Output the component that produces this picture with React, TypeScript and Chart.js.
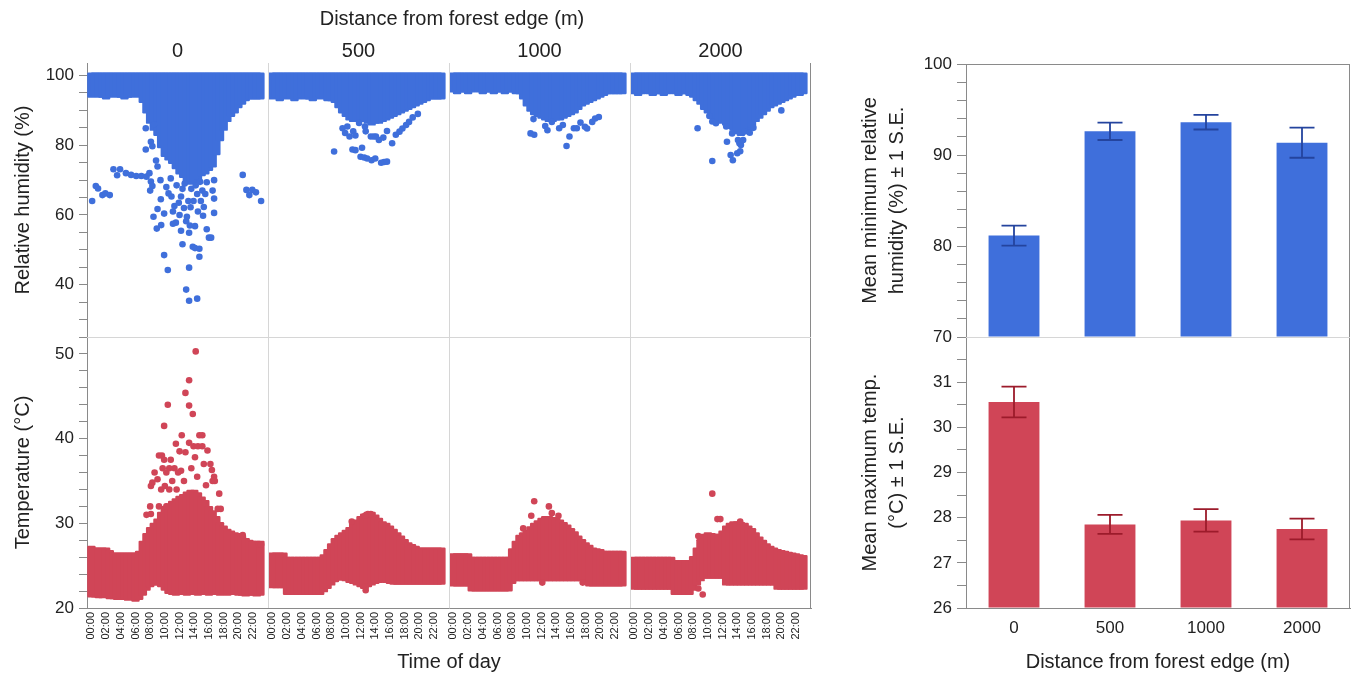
import React, { useEffect, useRef } from 'react';
import { Chart, registerables } from 'chart.js';

Chart.register(...registerables);

// ---------------- data ----------------
const DISTANCES = ['0', '500', '1000', '2000'];

// half-hour time slots of the scatter clouds (hours of day)
const HOURS = [0, 0.5, 1, 1.5, 2, 2.5, 3, 3.5, 4, 4.5, 5, 5.5, 6, 6.5, 7, 7.5, 8, 8.5, 9, 9.5, 10, 10.5, 11, 11.5, 12, 12.5, 13, 13.5, 14, 14.5, 15, 15.5, 16, 16.5, 17, 17.5, 18, 18.5, 19, 19.5, 20, 20.5, 21, 21.5, 22, 22.5, 23];
const TICK_HOURS = [0, 2, 4, 6, 8, 10, 12, 14, 16, 18, 20, 22];
const TIME_LABELS = ['00:00', '02:00', '04:00', '06:00', '08:00', '10:00', '12:00', '14:00', '16:00', '18:00', '20:00', '22:00'];

// relative humidity: upper limit of the dense cloud per distance
const RH_TOP = [100, 100, 100, 100];
// relative humidity: lower limit of the dense cloud per time slot
const RH_LO_0 = [94.5, 95, 94.5, 94.5, 94, 94.5, 95, 94.5, 94.5, 94, 94.5, 94.5, 95, 94.5, 93, 90, 87, 85, 83.5, 80, 77.5, 76.5, 75.5, 74, 72.5, 71.5, 70, 69.5, 70, 71, 72, 72.5, 73.5, 74.5, 78, 82, 85, 87.5, 89, 90, 91.5, 92.5, 93.5, 94, 94, 94, 94];
const RH_LO_1 = [94, 94.5, 93.5, 94, 94.5, 94, 93.5, 94, 94.5, 94, 94, 93.5, 94, 94.5, 94, 93.5, 93.5, 93, 91.5, 90, 89, 88, 87.5, 87.5, 87.5, 87.5, 87, 86.5, 87, 87, 87.5, 88, 88.5, 89, 89.5, 90, 90.5, 91, 91.5, 92, 92.5, 93, 93.5, 94, 94, 94, 94];
const RH_LO_2 = [96, 95.5, 96, 96, 95.5, 96, 96.5, 96, 95.5, 96, 96, 95.5, 96, 96, 95.5, 96, 96, 95.5, 95.5, 94, 92, 90.5, 89.5, 89, 88.5, 88, 87.5, 87.5, 88, 88, 88.5, 89, 89.5, 90, 91, 92, 92.5, 93, 93.5, 94, 94.5, 95, 95.5, 95.5, 95.5, 95.5, 95.5];
const RH_LO_3 = [95.5, 95, 95.5, 96, 95.5, 95, 95.5, 95.5, 95, 95.5, 96, 95.5, 95, 95.5, 95.5, 95, 94.5, 93.5, 92.5, 91, 90, 89, 88, 87.5, 87, 86.5, 85.5, 85, 84, 83.5, 84, 85, 86, 87.5, 88.5, 89.5, 90.5, 91.5, 92, 92.5, 93, 93.5, 94, 94.5, 95, 95, 95.5];

// temperature: upper / lower limit of the dense cloud per time slot
const T_HI_0 = [27, 26.8, 26.8, 26.8, 26.8, 26.5, 26.2, 26.2, 26.2, 26.2, 26.2, 26.2, 26.2, 26.4, 27.6, 28.5, 29.2, 29.7, 30.2, 31, 31.7, 32, 32.3, 32.6, 32.9, 33.1, 33.4, 33.6, 33.6, 33.3, 32.8, 32.4, 31.7, 31.2, 30.5, 29.8, 29.4, 29, 28.8, 28.6, 28.5, 28.2, 27.9, 27.7, 27.6, 27.6, 27.6];
const T_LO_0 = [21.6, 21.6, 21.5, 21.5, 21.6, 21.4, 21.4, 21.3, 21.3, 21.4, 21.2, 21.3, 21.1, 21.3, 21.8, 22.4, 22.8, 23, 23, 22.8, 22.4, 22, 21.9, 21.8, 21.9, 21.9, 21.8, 21.9, 21.9, 21.8, 21.9, 21.9, 21.8, 21.9, 21.9, 21.8, 21.9, 21.8, 21.9, 21.9, 21.8, 21.8, 21.7, 21.8, 21.8, 21.7, 21.8];
const T_HI_1 = [26.2, 26.2, 26.2, 26.2, 25.7, 25.7, 25.7, 25.7, 25.7, 25.7, 25.7, 25.7, 25.7, 25.7, 26, 26.6, 27.3, 27.9, 28.3, 28.6, 28.9, 29.2, 29.8, 30.1, 30.5, 30.8, 31, 31, 30.7, 30.3, 29.9, 29.7, 29.4, 29, 28.6, 28.2, 27.8, 27.4, 27.2, 27, 26.8, 26.8, 26.8, 26.8, 26.8, 26.8, 26.8];
const T_LO_1 = [22.7, 22.7, 22.7, 22.7, 21.9, 21.9, 21.9, 21.9, 21.9, 21.9, 21.9, 21.9, 21.9, 21.9, 22.2, 22.6, 23, 23.4, 23.6, 23.6, 23.5, 23.3, 23.2, 23, 22.8, 22.6, 22.8, 23, 23.2, 23.3, 23.4, 23.3, 23.2, 23.1, 23.1, 23.1, 23.1, 23.1, 23.1, 23.1, 23.1, 23.1, 23.1, 23.1, 23.1, 23.1, 23.1];
const T_HI_2 = [26.1, 26.1, 26.1, 26.1, 26.1, 25.7, 25.7, 25.7, 25.7, 25.7, 25.7, 25.7, 25.7, 25.7, 25.7, 25.7, 26.7, 27.6, 28.3, 28.6, 28.9, 29.3, 29.7, 30, 30.3, 30.5, 30.5, 30.4, 30.3, 30.1, 29.8, 29.5, 29.1, 28.7, 28.2, 27.8, 27.4, 27.1, 26.8, 26.7, 26.6, 26.4, 26.4, 26.4, 26.4, 26.4, 26.4];
const T_LO_2 = [22.9, 22.9, 22.9, 22.9, 22.9, 22.3, 22.3, 22.3, 22.3, 22.3, 22.3, 22.3, 22.3, 22.3, 22.3, 22.3, 23.2, 23.5, 23.5, 23.5, 23.5, 23.5, 23.5, 23.5, 23.5, 23.5, 23.5, 23.5, 23.5, 23.5, 23.5, 23.5, 23.5, 23.5, 23.5, 23.5, 23.5, 22.9, 22.9, 22.9, 22.9, 22.9, 22.9, 22.9, 22.9, 22.9, 22.9];
const T_HI_3 = [25.7, 25.7, 25.7, 25.7, 25.7, 25.7, 25.7, 25.7, 25.7, 25.7, 25.7, 25.3, 25.3, 25.3, 25.3, 25.3, 25.8, 26.8, 27.8, 28.4, 28.6, 28.5, 28.4, 28.4, 28.8, 29.4, 29.7, 29.9, 29.9, 29.8, 29.7, 29.4, 29.1, 28.6, 28.1, 27.7, 27.3, 27, 26.8, 26.6, 26.5, 26.4, 26.3, 26.2, 26.1, 26, 25.9];
const T_LO_3 = [22.5, 22.5, 22.5, 22.5, 22.5, 22.5, 22.5, 22.5, 22.5, 22.5, 22.5, 21.9, 21.9, 21.9, 21.9, 21.9, 22.4, 23, 23.5, 23.8, 23.8, 23.8, 23.8, 23.8, 23.8, 23, 23, 23, 23, 23, 23, 23, 23, 23, 23, 23, 23, 23, 23, 22.5, 22.5, 22.5, 22.5, 22.5, 22.5, 22.5, 22.5];

// scattered readings outside the dense cloud: [hour, value]
const RH_OUT_0 = [[0.1, 64], [0.6, 68.3], [0.9, 67.6], [1.5, 65.7], [1.9, 66.2], [2.5, 65.7], [3.0, 73.1], [3.5, 71.4], [3.9, 73.1], [4.7, 72], [5.4, 71.5], [6.1, 71.2], [6.8, 71.2], [7.5, 71], [7.9, 72], [8.1, 69.6], [8.3, 68.3], [8.0, 67], [7.4, 84.9], [7.4, 78.8], [8.5, 86], [8.1, 81], [8.3, 79.7], [8.8, 75.6], [9.0, 73.9], [9.4, 70], [8.45, 59.5], [9, 61.7], [8.9, 56.1], [9.5, 57.1], [9.45, 64.5], [9.9, 60.4], [9.9, 48.5], [10.4, 44.2], [10.5, 66.2], [10.9, 65.3], [11.1, 61], [11.3, 62.6], [11.5, 57.8], [11.1, 57.5], [12, 60], [12.2, 65.3], [12.4, 51.6], [12.9, 58.2], [13, 59.5], [13.2, 64], [13.3, 54.9], [13.3, 44.9], [12.9, 38.6], [13.3, 35.4], [14.4, 36], [13.8, 50.9], [14.1, 50.5], [14.7, 50.3], [14.7, 48], [14.1, 56.8], [13.5, 62.2], [13.9, 64], [14.4, 66], [14.9, 64], [15.1, 67], [15.3, 62.3], [15.2, 59.8], [15.7, 55.9], [16, 53.5], [16.3, 53.5], [15.7, 69.4], [16.7, 70], [16.5, 67], [16.7, 64.7], [16.7, 60.6], [10.2, 68], [10.8, 70.5], [11.6, 68.5], [12.4, 67.5], [12.7, 69], [13.6, 67.5], [14.2, 68.5], [14.8, 69.5], [15.5, 66], [11.9, 63.5], [12.6, 62], [14.5, 61], [13.4, 57], [12.2, 55.5], [20.6, 71.5], [21.1, 67.2], [21.5, 65.7], [21.9, 67.2], [22.4, 66.5], [23.1, 64]];
const RH_OUT_1 = [[8.4, 78.2], [9.55, 84.9], [10.2, 85.4], [9.9, 83.5], [10.5, 82.5], [11, 84], [11.3, 82.8], [11.8, 86.4], [12.6, 85.4], [12.7, 84], [13.4, 82.5], [13.8, 82.5], [14.1, 82.5], [14.5, 81.5], [15.1, 82.2], [15.6, 84.1], [16.3, 80.6], [16.8, 83], [17.3, 83.9], [17.7, 84.8], [18.2, 85.8], [18.6, 86.7], [19.1, 88], [19.8, 89], [10.9, 78.8], [11.3, 78.6], [12.2, 79.3], [12, 76.7], [12.5, 76.5], [12.9, 76.2], [13.5, 75.7], [14, 76.2], [14.8, 75], [15.2, 75.2], [15.6, 75.3]];
const RH_OUT_2 = [[10.5, 83.4], [11, 83], [10.9, 87.5], [12.5, 85.5], [12.8, 84.3], [13.4, 86.7], [14.4, 84.9], [14.9, 85.8], [15.4, 79.8], [15.8, 82.5], [16.4, 84.9], [16.8, 84.9], [17.3, 86.5], [17.9, 85.3], [18.2, 84.8], [18.9, 86.7], [19.3, 87.7], [19.8, 88.1]];
const RH_OUT_3 = [[8.6, 84.9], [10.2, 88.4], [10.6, 86.8], [11.1, 86.3], [12.5, 85.4], [12.6, 81], [13.3, 83.4], [14.1, 81.5], [14.3, 80.6], [14.5, 80.1], [14.8, 81.5], [15, 84], [15.7, 83.6], [16.2, 85], [10.6, 75.5], [13.1, 77.2], [13.4, 75.7], [14, 77.7], [14.4, 78.3], [20, 90]];
const T_OUT_0 = [[14.2, 50.3], [13.3, 46.9], [12.8, 45.4], [13.3, 43.9], [13.8, 42.9], [10.4, 44], [9.9, 41.5], [12.3, 40.4], [14.7, 40.4], [15.1, 40.4], [13.3, 39.5], [13.9, 39.1], [14.5, 39.1], [15.1, 39.1], [12.8, 38.4], [15.8, 38.6], [9.2, 38], [9.6, 38], [9.9, 37.5], [10.8, 37.5], [8.6, 36], [9.7, 36.5], [10.2, 36], [10.6, 36.5], [11.3, 36.5], [11.8, 36], [12.2, 36.2], [15.3, 37], [16.2, 37], [16.4, 36.3], [16.7, 35.5], [8.1, 34.4], [8.3, 34.8], [9.5, 34], [10, 34.4], [16.5, 35], [16.8, 35], [17.4, 33.5], [7.5, 31], [8.1, 31.1], [8, 32], [9.2, 32], [10.2, 32], [17.2, 31.7], [17.6, 31.7], [9.0, 35.2], [11, 35], [11.6, 34], [12.6, 35], [13.6, 36.5], [14.4, 35.5], [15.6, 34.5], [10.6, 34], [12, 38.5], [11.5, 39.4], [14.1, 37.8], [20.6, 28.6], [22.8, 27.5], [23.1, 27.5]];
const T_OUT_1 = [[13, 31.1], [13.4, 31.1], [12.6, 30.9], [12.7, 22.5], [12.7, 22.1], [10.8, 30.2]];
const T_OUT_2 = [[11, 32.6], [13, 32], [10.6, 30.9], [13.4, 31.2], [14.3, 30.9], [9.5, 29.4], [12.1, 23], [17.6, 23]];
const T_OUT_3 = [[10.6, 33.5], [11.3, 30.5], [11.7, 30.5], [8.7, 28.5], [14.4, 30.2], [9.3, 21.6], [8.7, 22.3]];

// bar panels: mean and standard error per distance
const RH_BAR_MEAN = [81.15, 92.6, 93.6, 91.35];
const RH_BAR_SE = [1.1, 0.95, 0.8, 1.65];
const T_BAR_MEAN = [30.56, 27.85, 27.94, 27.75];
const T_BAR_SE = [0.34, 0.21, 0.25, 0.23];

// axis ticks
const RH_TICKS = [25, 30, 35, 40, 45, 50, 55, 60, 65, 70, 75, 80, 85, 90, 95, 100];
const RH_LABELED = [40, 60, 80, 100];
const T_TICKS = [20, 22, 24, 26, 28, 30, 32, 34, 36, 38, 40, 42, 44, 46, 48, 50, 52];
const T_LABELED = [20, 30, 40, 50];
const RH_BAR_TICKS = [70, 72, 74, 76, 78, 80, 82, 84, 86, 88, 90, 92, 94, 96, 98, 100];
const RH_BAR_LABELED = [70, 80, 90, 100];
const T_BAR_TICKS = [26, 26.5, 27, 27.5, 28, 28.5, 29, 29.5, 30, 30.5, 31, 31.5, 32];
const T_BAR_LABELED = [26, 27, 28, 29, 30, 31];

// ---------------- styling / layout ----------------
const FONT = '"Liberation Sans", Arial, Helvetica, sans-serif';
const TEXT = '#222222';
const AXIS = '#8a8a8a';
const DIVIDER = '#d6d6d6';
const BLUE = '#3F6FDB';
const RED = '#D04557';
const BLUE_DARK = '#24449E';
const RED_DARK = '#9C1B2B';

const FACET_SPAN = 24.64; // hours of axis per facet
const X_PAD = 0.6;
const X_MIN = -X_PAD;
const X_MAX = 4 * FACET_SPAN - X_PAD;

Chart.defaults.font.family = FONT;
Chart.defaults.color = TEXT;

const RH_LO = [RH_LO_0, RH_LO_1, RH_LO_2, RH_LO_3];
const T_LO = [T_LO_0, T_LO_1, T_LO_2, T_LO_3];
const T_HI = [T_HI_0, T_HI_1, T_HI_2, T_HI_3];
const RH_OUT = [RH_OUT_0, RH_OUT_1, RH_OUT_2, RH_OUT_3];
const T_OUT = [T_OUT_0, T_OUT_1, T_OUT_2, T_OUT_3];

function bandPoints(lo: number[][], hi: (f: number, i: number) => number) {
  const pts: any[] = [];
  lo.forEach((arr, f) => arr.forEach((v, i) => pts.push({ x: f * FACET_SPAN + HOURS[i], y: [v, hi(f, i)] })));
  return pts;
}
function outlierPoints(sets: number[][][]) {
  const pts: any[] = [];
  sets.forEach((arr, f) => arr.forEach(([h, v]) => pts.push({ x: f * FACET_SPAN + h, y: v })));
  return pts;
}

function yAxis(min: number, max: number, ticks: number[], labeled: number[], title: any, width: number, titleSize: number, titlePad: number, tickLen: number) {
  return {
    type: 'linear',
    position: 'left',
    min,
    max,
    afterBuildTicks: (s: any) => { s.ticks = ticks.map((v) => ({ value: v })); },
    afterFit: (s: any) => { s.width = width; s.paddingTop = 0; s.paddingBottom = 0; },
    grid: { drawOnChartArea: false, drawTicks: true, tickLength: tickLen, color: AXIS, lineWidth: 1 },
    border: { display: true, color: AXIS, width: 1 },
    ticks: {
      autoSkip: false,
      padding: 5,
      color: TEXT,
      font: { family: FONT, size: 17 },
      callback: (v: any) => (labeled.includes(v) ? String(v) : ''),
    },
    title: {
      display: true,
      text: title,
      color: TEXT,
      font: { family: FONT, size: titleSize, lineHeight: 1.35 },
      padding: { top: titlePad, bottom: 0 },
    },
  };
}

function panelPlugin(header: boolean, divider: 'top' | 'bottom') {
  return {
    id: 'panelFrame',
    afterDatasetsDraw(chart: any) {
      const { ctx, chartArea: a } = chart;
      const x = chart.scales.x;
      ctx.save();
      ctx.lineWidth = 1;
      ctx.strokeStyle = DIVIDER;
      ctx.beginPath();
      for (let f = 1; f < DISTANCES.length; f++) {
        const px = Math.round(x.getPixelForValue(f * FACET_SPAN - X_PAD)) + 0.5;
        ctx.moveTo(px, a.top);
        ctx.lineTo(px, a.bottom);
      }
      const dy = Math.round(divider === 'bottom' ? a.bottom : a.top) + 0.5;
      ctx.moveTo(a.left, dy);
      ctx.lineTo(a.right, dy);
      ctx.stroke();
      ctx.strokeStyle = AXIS;
      ctx.beginPath();
      const rx = Math.round(a.right) - 0.5;
      ctx.moveTo(rx, a.top);
      ctx.lineTo(rx, a.bottom);
      ctx.stroke();
      if (header) {
        ctx.fillStyle = TEXT;
        ctx.font = `20px ${FONT}`;
        ctx.textAlign = 'center';
        ctx.textBaseline = 'middle';
        ctx.fillText('Distance from forest edge (m)', (a.left + a.right) / 2 + 3, a.top - 44);
        DISTANCES.forEach((d, f) => {
          const cx = x.getPixelForValue(f * FACET_SPAN - X_PAD + FACET_SPAN / 2);
          ctx.fillText(d, cx, a.top - 12);
        });
      }
      ctx.restore();
    },
  };
}

function barPlugin(means: number[], ses: number[], color: string, top: boolean) {
  return {
    id: 'barFrame',
    afterDatasetsDraw(chart: any) {
      const { ctx, chartArea: a } = chart;
      const { x, y } = chart.scales;
      ctx.save();
      ctx.strokeStyle = color;
      ctx.lineWidth = 1.8;
      ctx.beginPath();
      means.forEach((m, i) => {
        const cx = x.getPixelForValue(i);
        const y1 = y.getPixelForValue(m + ses[i]);
        const y2 = y.getPixelForValue(m - ses[i]);
        ctx.moveTo(cx, y1);
        ctx.lineTo(cx, y2);
        ctx.moveTo(cx - 12.5, y1);
        ctx.lineTo(cx + 12.5, y1);
        ctx.moveTo(cx - 12.5, y2);
        ctx.lineTo(cx + 12.5, y2);
      });
      ctx.stroke();
      ctx.lineWidth = 1;
      ctx.strokeStyle = AXIS;
      ctx.beginPath();
      const rx = Math.round(a.right) - 0.5;
      ctx.moveTo(rx, a.top);
      ctx.lineTo(rx, a.bottom);
      if (top) {
        const ty = Math.round(a.top) + 0.5;
        ctx.moveTo(a.left, ty);
        ctx.lineTo(a.right, ty);
      }
      ctx.stroke();
      if (top) {
        ctx.strokeStyle = DIVIDER;
        ctx.beginPath();
        const by = Math.round(a.bottom) + 0.5;
        ctx.moveTo(a.left, by);
        ctx.lineTo(a.right, by);
        ctx.stroke();
      }
      ctx.restore();
    },
  };
}

const baseOptions = {
  responsive: false,
  maintainAspectRatio: false,
  animation: false,
  events: [],
  plugins: { legend: { display: false }, tooltip: { enabled: false } },
};

function scatterDatasets(out: number[][][], bands: any[], color: string) {
  return [
    { type: 'scatter', data: outlierPoints(out), backgroundColor: color, borderWidth: 0, pointRadius: 3.3, pointHoverRadius: 3.3 },
    { type: 'bar', data: bands, backgroundColor: color, borderWidth: 0, barThickness: 2.5, inflateAmount: 3, borderRadius: 1.2, borderSkipped: false, grouped: false },
  ];
}

function leftTopConfig(): any {
  return {
    type: 'bar',
    data: { datasets: scatterDatasets(RH_OUT, bandPoints(RH_LO, (f) => RH_TOP[f]), BLUE) },
    options: {
      ...baseOptions,
      layout: { padding: { left: 0, right: 4, top: 63, bottom: 23 } },
      scales: {
        x: { type: 'linear', display: false, offset: false, grid: { offset: false }, min: X_MIN, max: X_MAX },
        y: yAxis(25, 103.6, RH_TICKS, RH_LABELED, 'Relative humidity (%)', 87, 20, 10, 8),
      },
    },
    plugins: [panelPlugin(true, 'bottom')],
  };
}

function leftBottomConfig(): any {
  return {
    type: 'bar',
    data: { datasets: scatterDatasets(T_OUT, bandPoints(T_LO, (f, i) => T_HI[f][i]), RED) },
    options: {
      ...baseOptions,
      layout: { padding: { left: 0, right: 4, top: 7, bottom: 0 } },
      scales: {
        x: {
          type: 'linear',
          offset: false,
          min: X_MIN,
          max: X_MAX,
          afterBuildTicks: (s: any) => {
            const t: any[] = [];
            DISTANCES.forEach((_, f) => TICK_HOURS.forEach((h) => t.push({ value: f * FACET_SPAN + h })));
            s.ticks = t;
          },
          afterFit: (s: any) => { s.height = 66; s.paddingLeft = 0; s.paddingRight = 0; },
          grid: { offset: false, drawOnChartArea: false, drawTicks: false, color: AXIS },
          border: { display: true, color: AXIS, width: 1 },
          ticks: {
            autoSkip: false,
            minRotation: 90,
            maxRotation: 90,
            padding: 4,
            color: TEXT,
            font: { family: FONT, size: 11 },
            callback: (_v: any, i: number) => TIME_LABELS[i % TIME_LABELS.length],
          },
          title: { display: true, text: 'Time of day', color: TEXT, font: { family: FONT, size: 20 }, padding: { top: 0, bottom: 0 } },
        },
        y: yAxis(20, 52, T_TICKS, T_LABELED, 'Temperature (°C)', 87, 20, 10, 8),
      },
    },
    plugins: [panelPlugin(false, 'top')],
  };
}

function rightTopConfig(): any {
  return {
    type: 'bar',
    data: {
      labels: DISTANCES,
      datasets: [{ data: RH_BAR_MEAN, backgroundColor: BLUE, borderWidth: 0, barPercentage: 0.53, categoryPercentage: 1, base: 70 }],
    },
    options: {
      ...baseOptions,
      layout: { padding: { left: 0, right: 7, top: 64, bottom: 23 } },
      scales: {
        x: { display: false },
        y: yAxis(70, 100, RH_BAR_TICKS, RH_BAR_LABELED, ['Mean minimum relative', 'humidity (%) ± 1 S.E.'], 116, 20, 7, 9),
      },
    },
    plugins: [barPlugin(RH_BAR_MEAN, RH_BAR_SE, BLUE_DARK, true)],
  };
}

function rightBottomConfig(): any {
  return {
    type: 'bar',
    data: {
      labels: DISTANCES,
      datasets: [{ data: T_BAR_MEAN, backgroundColor: RED, borderWidth: 0, barPercentage: 0.53, categoryPercentage: 1, base: 26 }],
    },
    options: {
      ...baseOptions,
      layout: { padding: { left: 0, right: 7, top: 7, bottom: 0 } },
      scales: {
        x: {
          afterFit: (s: any) => { s.height = 66; s.paddingLeft = 0; s.paddingRight = 0; },
          grid: { drawOnChartArea: false, drawTicks: false, color: AXIS },
          border: { display: true, color: AXIS, width: 1 },
          ticks: { padding: 10, color: TEXT, font: { family: FONT, size: 17 } },
          title: { display: true, text: 'Distance from forest edge (m)', color: TEXT, font: { family: FONT, size: 20 }, padding: { top: 0, bottom: 0 } },
        },
        y: yAxis(26, 32, T_BAR_TICKS, T_BAR_LABELED, ['Mean maximum temp.', '(°C) ± 1 S.E.'], 116, 20, 7, 9),
      },
    },
    plugins: [barPlugin(T_BAR_MEAN, T_BAR_SE, RED_DARK, false)],
  };
}

export default function App() {
  const lt = useRef<HTMLCanvasElement>(null);
  const lb = useRef<HTMLCanvasElement>(null);
  const rt = useRef<HTMLCanvasElement>(null);
  const rb = useRef<HTMLCanvasElement>(null);

  useEffect(() => {
    const charts = [
      new Chart(lt.current as any, leftTopConfig()),
      new Chart(lb.current as any, leftBottomConfig()),
      new Chart(rt.current as any, rightTopConfig()),
      new Chart(rb.current as any, rightBottomConfig()),
    ];
    return () => charts.forEach((c) => c.destroy());
  }, []);

  const cs = (left: number, top: number, w: number, h: number): any => ({ position: 'absolute', left, top, width: w, height: h });

  return (
    <div style={{ position: 'absolute', left: 0, top: 0, width: 1357, height: 674, background: '#ffffff', overflow: 'hidden' }}>
      <canvas ref={lb} width={815} height={344} style={cs(0, 330, 815, 344)} />
      <canvas ref={lt} width={815} height={360} style={cs(0, 0, 815, 360)} />
      <canvas ref={rb} width={507} height={344} style={cs(850, 330, 507, 344)} />
      <canvas ref={rt} width={507} height={360} style={cs(850, 0, 507, 360)} />
    </div>
  );
}
